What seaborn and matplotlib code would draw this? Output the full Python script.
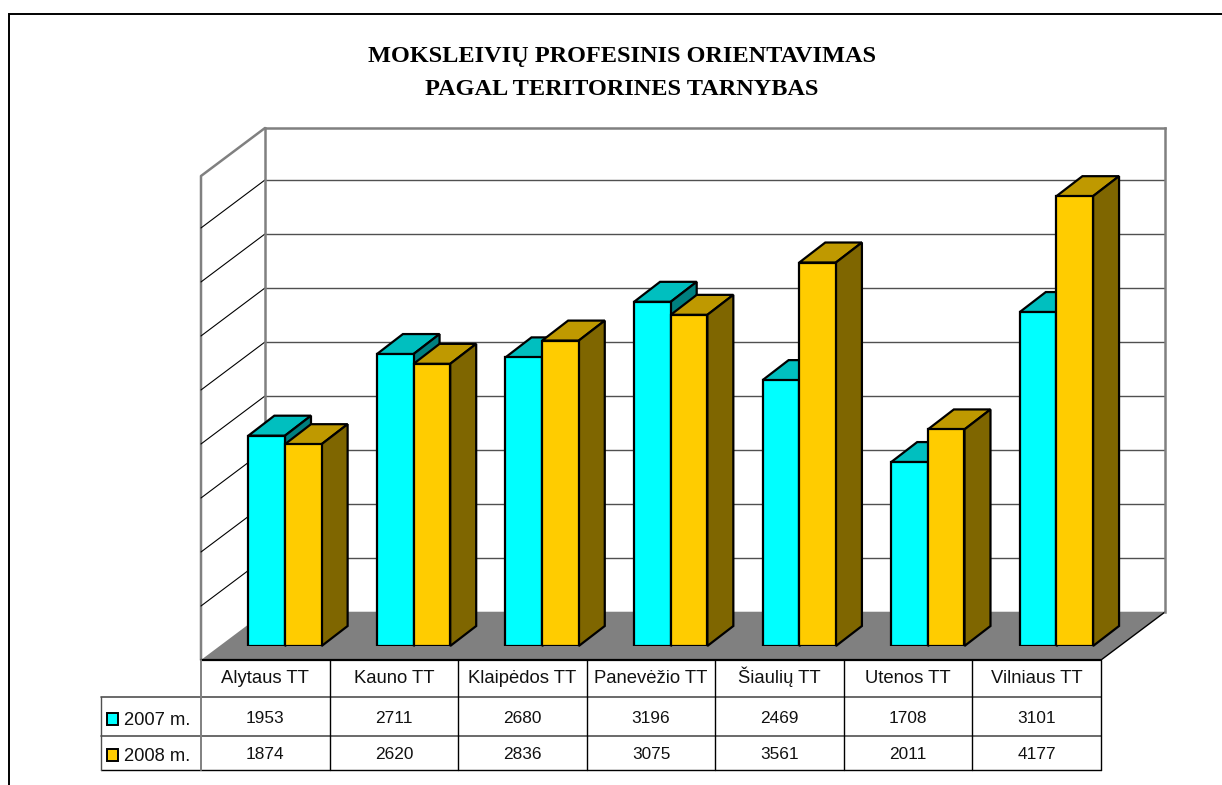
import pandas as pd
import seaborn as sns
from matplotlib import pyplot as plt
from matplotlib.patches import Polygon, Rectangle
from matplotlib.transforms import IdentityTransform

categories = ['Alytaus TT', 'Kauno TT', 'Klaipėdos TT', 'Panevėžio TT', 'Šiaulių TT', 'Utenos TT', 'Vilniaus TT']
series_names = ['2007 m.', '2008 m.']
values_2007 = [1953, 2711, 2680, 3196, 2469, 1708, 3101]
values_2008 = [1874, 2620, 2836, 3075, 3561, 2011, 4177]
title_lines = ['MOKSLEIVIŲ PROFESINIS ORIENTAVIMAS', 'PAGAL TERITORINES TARNYBAS']
grid_ticks = [0, 500, 1000, 1500, 2000, 2500, 3000, 3500, 4000]

W, H = 1222, 785
FRONT = ['#00FFFF', '#FFCC00']
TOP = ['#00BFBF', '#BF9900']
SIDE = ['#007F7F', '#7F6600']
GREY = '#808080'


def box(left, right, top, bottom):
    # pixel box (y from the top of the picture) to figure fractions
    return [left / W, 1 - bottom / H, (right - left) / W, (bottom - top) / H]


if __name__ == '__main__':
    sns.set_style('white')
    plt.rcParams['font.family'] = ['Liberation Sans', 'DejaVu Sans']

    data = pd.DataFrame({
        'tt': categories * 2,
        'year': [series_names[0]] * 7 + [series_names[1]] * 7,
        'value': values_2007 + values_2008,
    })

    fig = plt.figure(figsize=(W / 100, H / 100), dpi=100, facecolor='white')

    # whole picture in pixels: frame, floor, side wall, table, title
    bg = fig.add_axes([0, 0, 1, 1], zorder=0)
    bg.set_xlim(0, W)
    bg.set_ylim(H, 0)
    bg.axis('off')

    bg.plot([9, 9, W], [H, 14, 14], color='black', lw=1.4, solid_joinstyle='miter')

    # back wall, on the value scale (top sits a little short of the 4500 line)
    wall = fig.add_axes(box(265, 1165, 128, 612), zorder=1)
    wall.patch.set_alpha(0)
    wall.set_xlim(0, 1)
    wall.set_ylim(0, 4481)
    wall.set_xticks([])
    wall.set_yticks(grid_ticks)
    wall.set_yticklabels([])
    wall.grid(axis='y', color='#505050', lw=1)
    for name, spine in wall.spines.items():
        spine.set_visible(name != 'bottom')
        spine.set_color(GREY)
        spine.set_linewidth(1.8)

    # floor and left wall
    bg.add_patch(Polygon([(201, 660), (1101, 660), (1165, 612), (265, 612)], closed=True,
                         facecolor=GREY, edgecolor='none'))
    bg.plot([1101, 1165], [660, 612], color='black', lw=1)
    bg.plot([201, 201, 265], [660, 176, 128], color=GREY, lw=1.8)
    for t in grid_ticks[1:]:
        y = H - wall.transData.transform((0, t))[1]
        bg.plot([201, 265], [y + 48, y], color='black', lw=0.8)

    # bars: front faces stand on this plane, inside the floor
    ax = fig.add_axes(box(220.7, 1120.7, 161.4, 646), zorder=2)
    ax.patch.set_alpha(0)
    sns.barplot(data=data, x='tt', y='value', hue='year', hue_order=series_names, palette=FRONT,
                width=0.57, gap=0, saturation=1, edgecolor='black', linewidth=1.6,
                legend=False, ax=ax)
    ax.set_xlim(-0.5, 6.5)
    ax.set_ylim(0, 4500)
    ax.axis('off')

    # depth of the bars, taken from the drawn rectangles
    dx, dy = 26, 20
    for s, bars in enumerate(ax.containers):
        for bar in bars:
            b = bar.get_window_extent()
            z = 3 + s * 2
            bar.set_zorder(z + 1)
            top = [(b.x0, b.y1), (b.x1, b.y1), (b.x1 + dx, b.y1 + dy), (b.x0 + dx, b.y1 + dy)]
            side = [(b.x1, b.y0), (b.x1 + dx, b.y0 + dy), (b.x1 + dx, b.y1 + dy), (b.x1, b.y1)]
            for pts, col in ((top, TOP[s]), (side, SIDE[s])):
                ax.add_patch(Polygon(pts, closed=True, facecolor=col, edgecolor='black', lw=1.6,
                                     joinstyle='miter', transform=IdentityTransform(),
                                     clip_on=False, zorder=z))

    # data table
    col_w = 900 / 7
    row_y = [660, 697, 736, 770]
    bg.plot([201, 1101], [660, 660], color='black', lw=1.6)
    bg.plot([101, 1101], [row_y[1], row_y[1]], color='#505050', lw=1.2)
    bg.plot([101, 1101], [row_y[2], row_y[2]], color='#505050', lw=1.2)
    bg.plot([101, 1101], [row_y[3], row_y[3]], color='black', lw=1)
    bg.plot([101, 101], [row_y[1], row_y[3]], color='#505050', lw=1)
    bg.plot([201, 201], [660, row_y[3]], color=GREY, lw=1.4)
    for i in range(1, 8):
        x = 201 + i * col_w
        bg.plot([x, x], [660, row_y[3]], color='black', lw=1)

    for i, name in enumerate(categories):
        x = 201 + (i + 0.5) * col_w
        bg.text(x, 683, name, ha='center', va='baseline', fontsize=13.3, color='#111111')
        bg.text(x, 723, str(values_2007[i]), ha='center', va='baseline', fontsize=12.4, color='#111111')
        bg.text(x, 759, str(values_2008[i]), ha='center', va='baseline', fontsize=12.4, color='#111111')

    for s, (name, y) in enumerate(zip(series_names, (725, 761))):
        bg.add_patch(Rectangle((107, y - 12), 11, 12, facecolor=FRONT[s], edgecolor='black', lw=1.4))
        bg.text(124, y, name, ha='left', va='baseline', fontsize=13.2, color='#111111')

    for line, y in zip(title_lines, (62, 95)):
        bg.text(622, y, line, ha='center', va='baseline', fontsize=17.5, fontweight='bold',
                family=['Liberation Serif', 'DejaVu Serif'], color='black')

    fig.savefig('out.png')
